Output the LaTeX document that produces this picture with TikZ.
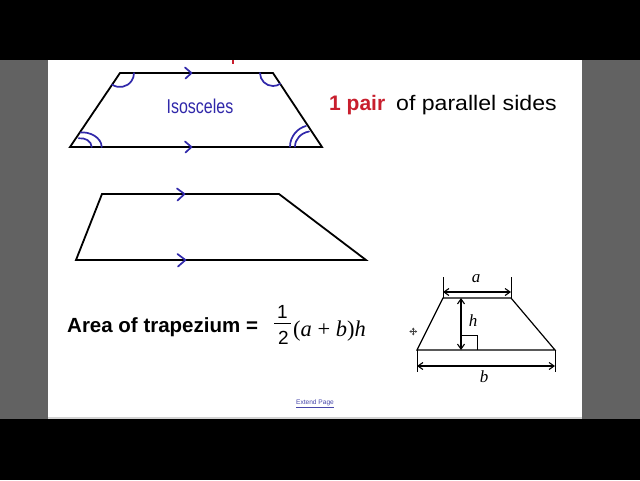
\documentclass[tikz,border=0pt]{standalone}
\usepackage{fontspec}
\usepackage{graphicx}
\setmainfont{Liberation Sans}
\newfontfamily\tnr{Liberation Serif}
\usetikzlibrary{arrows.meta,angles}
\definecolor{pen}{RGB}{48,40,170}
\definecolor{sidegray}{RGB}{98,98,98}
\definecolor{redtxt}{RGB}{200,30,45}
\definecolor{linkblue}{RGB}{70,70,170}
\begin{document}
\begin{tikzpicture}[x=1pt,y=-1pt,
  trapline/.style={line width=1.8pt, line join=miter},
  penline/.style={draw=pen, line width=1.7pt, line cap=round, line join=round},
  smallline/.style={line width=1.2pt},
  dimarrow/.style={line width=1.1pt, {Straight Barb[length=5pt,width=7pt]}-{Straight Barb[length=5pt,width=7pt]}},
  extline/.style={line width=0.9pt},
  lbl/.style={inner sep=0pt},
]
\useasboundingbox (0,0) rectangle (640,480);
% frame
\fill[black] (0,0) rectangle (640,480);
\fill[sidegray] (0,60) rectangle (640,419);
\fill[white] (48,60) rectangle (582,417);
\fill[gray!35] (48,417) rectangle (582,419);
\fill[redtxt] (231.5,60) rectangle (233.5,63.5);

% isosceles trapezium
\coordinate (A1) at (70,147);
\coordinate (B1) at (322,147);
\coordinate (C1) at (273,73);
\coordinate (D1) at (120,73);
\draw[trapline] (A1) -- (B1) -- (C1) -- (D1) -- cycle;
\pic[penline, angle radius=14pt] {angle = A1--D1--C1};
\pic[penline, angle radius=13pt] {angle = D1--C1--B1};
% double arcs at bottom corners
\draw[penline] (80.7,132.5) .. controls (89,131.5) and (101.5,137) .. (101.7,147);
\draw[penline] (78.7,138.3) .. controls (85,137.5) and (91.5,141) .. (91.7,147);
\draw[penline] (290,146.7) .. controls (290,136) and (298,128) .. (306,126);
\draw[penline] (295,146.7) .. controls (295,139) and (301,133) .. (309,131.5);
% parallel marks
\draw[penline] (185,67.5) -- (191.5,73) -- (185.5,78.5);
\draw[penline] (185,141.5) -- (191.5,147) -- (185.5,152.5);
\node[lbl, text=pen, font=\fontsize{20}{24}\selectfont] (iso) at (200,106.5) {\scalebox{0.8}[1]{Isosceles}};

% heading
\node[lbl, anchor=base west, text=redtxt, font=\bfseries\fontsize{21}{25}\selectfont] (pair) at (329,110.5) {1 pair};
\node[lbl, anchor=base west, font=\fontsize{21}{25}\selectfont] (sides) at (396,110.5) {\scalebox{1.1}[1]{of parallel sides}};

% second trapezium
\coordinate (A2) at (76,260);
\coordinate (B2) at (366,260);
\coordinate (C2) at (279,194);
\coordinate (D2) at (102,194);
\draw[trapline] (A2) -- (B2) -- (C2) -- (D2) -- cycle;
\draw[penline] (177,188.5) -- (184.5,194) -- (177.5,200.5);
\draw[penline] (177.5,254) -- (185.5,260) -- (178,266.5);

% formula
\node[lbl, anchor=base west, font=\bfseries\fontsize{20.5}{24}\selectfont] (area) at (67,332.7) {Area of trapezium =};
\node[lbl, font=\fontsize{19}{22}\selectfont] (one) at (282.5,311.5) {1};
\node[lbl, font=\fontsize{19}{22}\selectfont] (two) at (283.5,337.5) {2};
\draw[line width=1.3pt] (274,323.5) -- (290.5,323.5);
\node[lbl, anchor=base west, font=\tnr\fontsize{22.5}{26}\selectfont] (expr) at (293,336) {(\textit{a} + \textit{b})\textit{h}};

% small diagram
\coordinate (sA) at (417,350);
\coordinate (sB) at (555,350);
\coordinate (sC) at (511,298);
\coordinate (sD) at (443,298);
\draw[smallline] (sA) -- (sB) -- (sC) -- (sD) -- cycle;
\coordinate (eaL) at (443,277);
\coordinate (eaR) at (511,277);
\draw[extline] (eaL) -- (sD);
\draw[extline] (eaR) -- (sC);
\coordinate (daL) at (443,292);
\coordinate (daR) at (511,292);
\draw[dimarrow] (daL) -- (daR);
\node[lbl, font=\tnr\itshape\fontsize{17}{20}\selectfont] (la) at (476,278.5) {a};
\coordinate (hT) at (461,298);
\coordinate (hB) at (461,350);
\draw[dimarrow] (hT) -- (hB);
\draw[smallline, line width=1pt] (461,335) -- (477,335) -- (477,350);
\node[lbl, font=\tnr\itshape\fontsize{17}{20}\selectfont] (lh) at (473,321) {h};
\coordinate (ebL) at (417,372);
\coordinate (ebR) at (555,372);
\draw[extline] (sA) -- (ebL);
\draw[extline] (sB) -- (ebR);
\coordinate (dbL) at (417,366);
\coordinate (dbR) at (555,366);
\draw[dimarrow] (dbL) -- (dbR);
\node[lbl, font=\tnr\itshape\fontsize{17}{20}\selectfont] (lb) at (484,376.5) {b};

% move cursor
\coordinate (cur) at (413.3,331.5);
\foreach \dx/\dy in {4/0,-4/0,0/4,0/-4}
  \draw[line width=0.7pt, -{Latex[length=2pt,width=3pt]}, black!75] (cur) -- ++(\dx,\dy);

% link
\node[lbl, text=linkblue, font=\fontsize{6.6}{8}\selectfont] (link) at (315,403.5) {\underline{Extend Page}};
\end{tikzpicture}
\end{document}
